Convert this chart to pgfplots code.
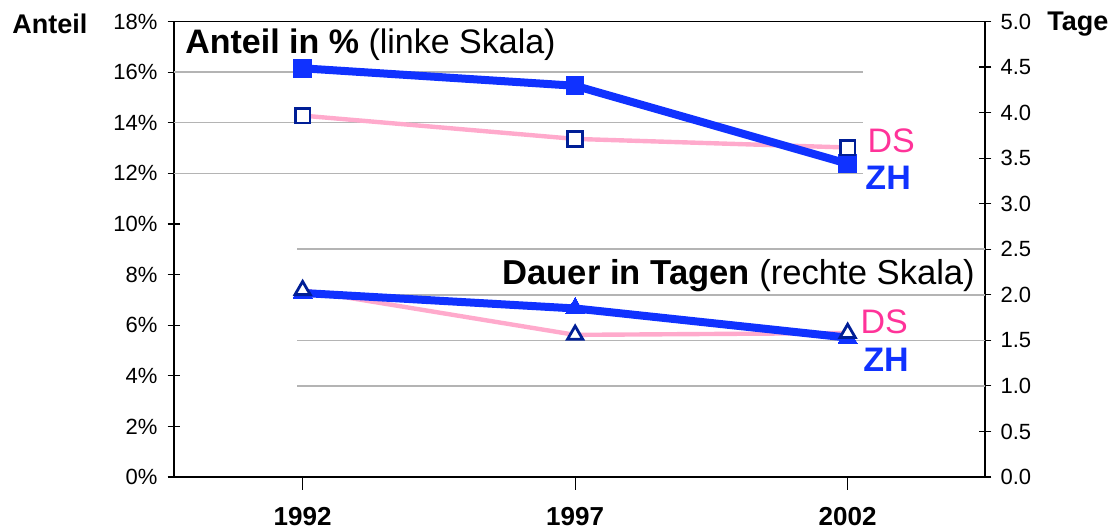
\documentclass[border=0pt]{standalone}
\usepackage{fontspec}
\setmainfont{Liberation Sans}
\usepackage{pgfplots}
\pgfplotsset{compat=1.18}
\definecolor{zhblue}{RGB}{16,50,255}
\definecolor{dspink}{RGB}{255,170,204}
\definecolor{dstext}{RGB}{255,51,153}
\definecolor{navy}{RGB}{0,30,150}
\definecolor{gridgray}{RGB}{180,180,180}
\begin{document}
\begin{tikzpicture}
\path[use as bounding box] (-87pt,-26pt) rectangle (472.5pt,238.5pt);
% ---------------- left axis: Anteil in % ----------------
\begin{axis}[
  scale only axis, width=405.5pt, height=227.75pt,
  xmin=1989.64, xmax=2004.52, ymin=0, ymax=18,
  axis x line*=bottom, axis y line*=left,
  axis line style={line width=1.25pt, -},
  xtick={1992,1997,2002}, xticklabels={1992,1997,2002},
  ytick={0,2,4,6,8,10,12,14,16,18},
  yticklabel={\pgfmathprintnumber{\tick}\%},
  /pgf/number format/assume math mode=true,
  yticklabel style={font=\fontsize{11}{13}\selectfont, xshift=-1.5pt},
  xticklabel style={font=\bfseries\fontsize{13}{15}\selectfont, yshift=-5pt},
  ytick align=center, xtick align=outside,
  major tick length=6.5pt,
  tick style={black, line width=0.6pt},
  clip=false,
]
\addplot[gridgray, line width=0.75pt, forget plot] coordinates {(1989.64,12) (2002.28,12)};
\addplot[gridgray, line width=0.75pt, forget plot] coordinates {(1989.64,14) (2002.28,14)};
\addplot[gridgray, line width=0.75pt, forget plot] coordinates {(1989.64,16) (2002.28,16)};
\addplot[black, line width=0.7pt, forget plot] coordinates {(1989.64,18) (2004.52,18)};
% DS line
\addplot[dspink, line width=2.2pt, no markers] coordinates {(1992,14.28) (1997,13.36) (2002,13.02)};
% ZH line
\addplot[zhblue, line width=4pt, mark=square*, mark size=4.4pt,
  mark options={fill=zhblue, draw=zhblue, line width=0pt}] coordinates {(1992,16.15) (1997,15.46) (2002,12.38)};
% DS markers
\addplot[only marks, mark=square*, mark size=3.7pt,
  mark options={draw=navy, fill=white, line width=1.4pt}] coordinates {(1992,14.28) (1997,13.36) (2002,13.02)};
\node[anchor=base west, inner sep=0, font=\fontsize{17}{20}\selectfont] at (axis cs:1989.84,16.74) {\textbf{Anteil in \%} (linke Skala)};
\node[anchor=base east, inner sep=0, font=\fontsize{17.3}{20}\selectfont] at (axis cs:2004.34,7.61) {\textbf{Dauer in Tagen} (rechte Skala)};
\node[anchor=base west, inner sep=0, text=dstext, font=\fontsize{17}{20}\selectfont] at (axis cs:2002.36,12.84) {DS};
\node[anchor=base west, inner sep=0, text=zhblue, font=\bfseries\fontsize{17}{20}\selectfont] at (axis cs:2002.32,11.38) {ZH};
\node[anchor=base west, inner sep=0, text=dstext, font=\fontsize{17}{20}\selectfont] at (axis cs:2002.23,5.69) {DS};
\node[anchor=base west, inner sep=0, text=zhblue, font=\bfseries\fontsize{17}{20}\selectfont] at (axis cs:2002.28,4.16) {ZH};
\end{axis}
% ---------------- right axis: Dauer in Tagen ----------------
\begin{axis}[
  scale only axis, width=405.5pt, height=227.75pt,
  xmin=1989.64, xmax=2004.52, ymin=0, ymax=5,
  axis y line*=right, axis x line=none,
  axis line style={line width=1.25pt, -},
  ytick={0,0.5,1,1.5,2,2.5,3,3.5,4,4.5,5},
  /pgf/number format/assume math mode=true,
  yticklabel style={font=\fontsize{11}{13}\selectfont, xshift=1pt,
    /pgf/number format/.cd, fixed, fixed zerofill, precision=1},
  ytick align=center,
  major tick length=6.5pt,
  tick style={black, line width=0.6pt},
  clip=false,
]
\addplot[gridgray, line width=0.75pt, forget plot] coordinates {(1991.9,1) (2004.52,1)};
\addplot[gridgray, line width=0.75pt, forget plot] coordinates {(1991.9,1.5) (2004.52,1.5)};
\addplot[gridgray, line width=0.75pt, forget plot] coordinates {(1991.9,2) (2004.52,2)};
\addplot[gridgray, line width=0.75pt, forget plot] coordinates {(1991.9,2.5) (2004.52,2.5)};
% DS line
\addplot[dspink, line width=2.2pt, no markers] coordinates {(1992,2.05) (1997,1.56) (2002,1.58)};
% ZH line
\addplot[zhblue, line width=4pt, mark=triangle*, mark size=5.5pt,
  mark options={fill=zhblue, draw=zhblue, line width=0pt}] coordinates {(1992,2.02) (1997,1.85) (2002,1.53)};
% DS markers
\addplot[only marks, mark=triangle*, mark size=4.4pt,
  mark options={draw=navy, fill=white, line width=1.4pt}] coordinates {(1992,2.05) (1997,1.56) (2002,1.58)};
\end{axis}
\node[anchor=base west, inner sep=0, font=\bfseries\fontsize{13.5}{16}\selectfont] at (-81pt,221.5pt) {Anteil};
\node[anchor=base west, inner sep=0, font=\bfseries\fontsize{13.5}{16}\selectfont] at (436.5pt,223pt) {Tage};
\end{tikzpicture}
\end{document}
